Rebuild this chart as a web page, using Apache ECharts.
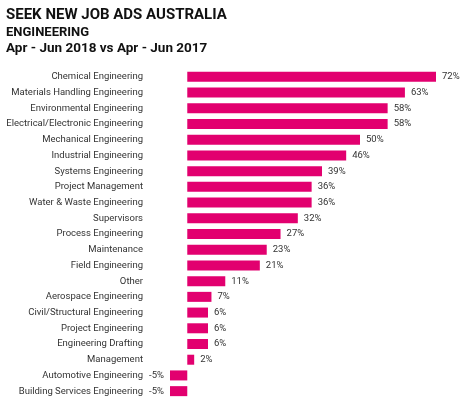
<!DOCTYPE html>
<html>
<head>
<meta charset="utf-8">
<script src="https://cdn.jsdelivr.net/npm/echarts@6/dist/echarts.min.js"></script>
<style>
  html, body { margin: 0; padding: 0; background: #fff; }
  #main { width: 474px; height: 409px; }
</style>
</head>
<body>
<div id="main"></div>
<script>
// job ad growth by engineering sub-category
var categories = ['Chemical Engineering', 'Materials Handling Engineering', 'Environmental Engineering',
    'Electrical/Electronic Engineering', 'Mechanical Engineering', 'Industrial Engineering',
    'Systems Engineering', 'Project Management', 'Water & Waste Engineering', 'Supervisors',
    'Process Engineering', 'Maintenance', 'Field Engineering', 'Other', 'Aerospace Engineering',
    'Civil/Structural Engineering', 'Project Engineering', 'Engineering Drafting', 'Management',
    'Automotive Engineering', 'Building Services Engineering'];
var growth = [72, 63, 58, 58, 50, 46, 39, 36, 36, 32, 27, 23, 21, 11, 7, 6, 6, 6, 2, -5, -5];

var myChart = echarts.init(document.getElementById('main'));

var barData = growth.map(function (v) {
    return {
        value: v,
        label: { position: v < 0 ? 'left' : 'right' }
    };
});

var titleFont = { fontFamily: 'Roboto', fontWeight: 'bold', color: '#111' };

var option = {
    animation: false,
    textStyle: { fontFamily: 'Roboto' },
    title: [
        { left: 6, top: 8, text: 'SEEK NEW JOB ADS AUSTRALIA', padding: 0,
          textStyle: Object.assign({ fontSize: 15 }, titleFont) },
        { left: 6, top: 26, text: 'ENGINEERING', padding: 0,
          textStyle: Object.assign({ fontSize: 13 }, titleFont) },
        { left: 6, top: 42, text: 'Apr - Jun 2018 vs Apr - Jun 2017', padding: 0,
          textStyle: Object.assign({ fontSize: 13.5 }, titleFont) }
    ],
    grid: { left: 170, right: 38, top: 69, bottom: 10, containLabel: false },
    xAxis: {
        type: 'value',
        min: -5,
        max: 72,
        show: false
    },
    yAxis: {
        type: 'category',
        data: categories,
        inverse: true,
        axisLine: { show: false, onZero: false },
        axisTick: { show: false },
        axisLabel: { margin: 27, fontSize: 9.5, color: '#333' }
    },
    series: [{
        type: 'bar',
        data: barData,
        barWidth: 10,
        itemStyle: { color: '#e2006f' },
        label: {
            show: true,
            formatter: '{c}%',
            fontSize: 9.5,
            color: '#333',
            distance: 6
        }
    }]
};

myChart.setOption(option);
</script>
</body>
</html>
